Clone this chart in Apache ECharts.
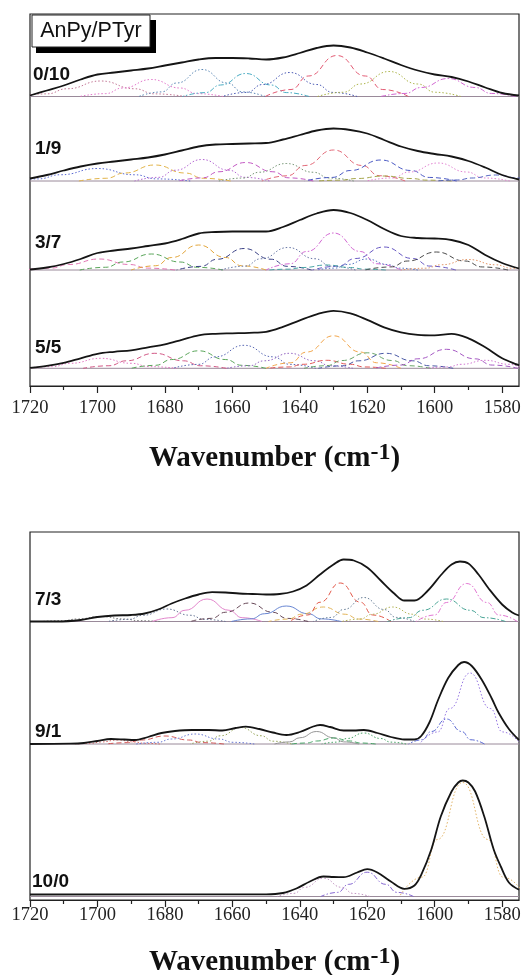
<!DOCTYPE html>
<html><head><meta charset="utf-8">
<script src="https://cdn.jsdelivr.net/npm/echarts@6/dist/echarts.min.js"></script>
<style>html,body{margin:0;padding:0;background:#fff}#c{width:528px;height:975px}</style>
</head><body><div id="c"></div>
<script>
// ---------- axis ----------
const xMin = 1575, xMax = 1720;
const majorTicks = [1720, 1700, 1680, 1660, 1640, 1620, 1600, 1580];
const minorTicks = [1710, 1690, 1670, 1650, 1630, 1610, 1590];
const sampleNames = ['0/10', '1/9', '3/7', '5/5', '7/3', '9/1', '10/0'];
const legendTitle = 'AnPy/PTyr';

// ---------- measured envelopes [wavenumber, intensity] ----------
const env_0_10 = [[1720,1],[1715,6],[1710,11],[1705,17],[1700,22],[1695,24],[1690,26],[1685,28],[1680,31],[1675,34],[1670,37],[1665,38.5],[1660,38.5],[1655,38],[1650,37],[1645,39],[1640,43.5],[1635,48.5],[1630,51],[1625,49],[1620,44],[1615,38],[1610,31.5],[1605,26],[1600,22],[1595,19.5],[1590,15],[1585,9],[1580,3.5],[1575,1]];
const env_1_9 = [[1720,2.5],[1715,6],[1710,10.5],[1705,14.5],[1700,17.5],[1695,19.5],[1690,21.5],[1685,23.5],[1680,26.5],[1675,30.5],[1670,34.5],[1665,36.5],[1660,37],[1655,37.5],[1650,38],[1645,41.5],[1640,46],[1635,50.5],[1630,52.5],[1625,51],[1620,47.5],[1615,41],[1610,34.5],[1605,30],[1600,27],[1595,24.5],[1590,20],[1585,13.5],[1580,6],[1575,1.5]];
const env_3_7 = [[1720,0.5],[1715,2.5],[1710,6],[1705,11],[1700,17],[1695,19.5],[1690,21.5],[1685,24],[1680,26.5],[1675,31],[1670,36.5],[1665,38],[1660,38.5],[1655,38.5],[1650,38.5],[1645,43],[1640,50],[1635,56.5],[1630,60],[1625,57],[1620,50],[1615,41],[1610,34],[1605,32],[1600,31.5],[1595,30],[1590,25],[1585,15],[1580,7],[1575,1.5]];
const env_5_5 = [[1720,0.5],[1715,2.5],[1710,5.5],[1705,10],[1700,14.5],[1695,16.5],[1690,18],[1685,21],[1680,24],[1675,28.5],[1670,33],[1665,34.5],[1660,35],[1655,35.5],[1650,36.5],[1645,41.5],[1640,48],[1635,54],[1630,57.5],[1625,55],[1620,48.5],[1615,41],[1610,36],[1605,33.5],[1600,33],[1595,34.5],[1590,30],[1585,21],[1580,10],[1575,3]];
const env_7_3 = [[1720,0],[1712,0],[1705,1.5],[1700,4.5],[1695,6],[1690,6.5],[1686,8],[1682,12],[1678,18],[1674,23],[1670,27],[1666,29.3],[1662,29],[1658,28],[1654,27.5],[1650,27],[1646,27.5],[1642,30],[1638,36],[1634,47],[1630,57],[1627,62],[1624,61],[1620,54],[1616,41],[1612,28],[1609,21],[1606,21],[1602,31],[1598,47],[1595,57],[1592.5,60],[1590,58],[1587,47],[1584,33],[1580,17],[1577,9],[1575,6]];
const env_9_1 = [[1720,0],[1708,0.3],[1704,1],[1700,3],[1696,5],[1692,4.5],[1689,4],[1685,7],[1681,11],[1677,13],[1672,14],[1667,14],[1663,13.5],[1659,16],[1656,17.3],[1652,15],[1648,11.5],[1644,9],[1640,12],[1636,17.5],[1634,19],[1631,17],[1627,13.5],[1624,13.5],[1621,14],[1617,11],[1613,7],[1609,4.5],[1606,4.5],[1604,8],[1601.5,22],[1599,44],[1596,66],[1593,79],[1591.3,82],[1589,78],[1586,64],[1583,45],[1581,31],[1578,15],[1575,4]];
const env_10_0 = [[1720,2],[1650,2.2],[1645,3.5],[1641,8],[1637,15],[1633,20],[1630,19.5],[1627,19.3],[1623,24],[1620,27.3],[1617,24],[1613,15],[1609,7.7],[1606,11],[1604,21.7],[1601,47],[1598.2,80],[1595,105],[1593,114],[1591.7,116],[1590,114],[1588,105],[1585.3,80],[1582.5,47],[1580.4,30],[1578,14],[1575,6.7]];

// ---------- fitted component peaks [centre, height, FWHM] ----------
const peaks_0_10 = [[1699,15.5,20],[1684,17,17],[1669,27,15],[1656,23,15],[1643,24,16],[1629,41,17],[1613.5,25,17],[1596,18,16]];
const peaks_1_9 = [[1700,12.5,22],[1683,16,18],[1669,21.5,16],[1656,18.5,16],[1644,17.5,16],[1630,31,17],[1616,21,18],[1615,5,16],[1599,18,17],[1582,6,14]];
const peaks_3_7 = [[1699.5,11,18],[1684,16,17],[1670,25,16],[1656.5,21.5,16],[1643.5,22.5,16],[1630,37,16],[1615,23,17],[1620,11,12],[1632,5,14],[1599.5,18,17],[1590,10.5,16]];
const peaks_5_5 = [[1699,10,18],[1683,15,17],[1670,17.5,16],[1656.5,23,17],[1643,15,15],[1630,32.5,16],[1632,8,14],[1620,15.5,15],[1614.5,15,16],[1596.5,19,17],[1585,8,14]];
const peaks_7_3 = [[1699,5,14],[1679.5,12.5,14],[1667.5,22.5,13],[1655,18.5,14],[1644,15.5,13],[1633,14.5,13],[1628,38.5,12],[1621,24,12],[1612.5,14.5,12],[1596.5,22.5,14],[1590.5,38,12]];
const peaks_9_1 = [[1694,4,10],[1680,8,14],[1671,10,14],[1657.5,16.5,12],[1635,12.5,10],[1630,6,10],[1621,11,10],[1596.5,25,9],[1589.5,71,12]];
const peaks_10_0 = [[1633,18.3,11],[1620,24.3,11],[1591.7,114,15]];

// ---------- styles (colour, dash) ----------
const styles_0_10 = [['#c07090','dot'],['#e070c8','dot'],['#5080b0','dot'],['#40a8c0','dd'],['#4050b0','dot'],['#e0506a','dash'],['#a8b040','dot'],['#d060d0','dd']];
const styles_1_9 = [['#5060d0','dot'],['#e0b040','dash'],['#b060d0','dot'],['#c050c0','dash'],['#709070','dot'],['#e06070','dash'],['#4050c0','dash'],['#a0a040','dash'],['#e080d0','dot'],['#5060c0','dash']];
const styles_3_7 = [['#e070b0','dash'],['#50a050','dash'],['#e0a030','dash'],['#303880','dash'],['#6070a0','dot'],['#d060d0','dd'],['#6050c0','dash'],['#5070c0','dot'],['#40a0a0','dash'],['#404040','dash'],['#e09060','dot']];
const styles_5_5 = [['#e070c0','dot'],['#d05080','dash'],['#50a050','dash'],['#5060b0','dot'],['#9060c0','dot'],['#f0a040','dash'],['#e05050','dash'],['#60a060','dash'],['#4050a0','dash'],['#a050c0','dash'],['#d070d0','dot']];
const styles_7_3 = [['#707070','dot'],['#607090','dot'],['#e080c8','solid'],['#604050','dash'],['#6080d0','solid'],['#e0b050','dash'],['#e05040','dash'],['#607890','dot'],['#b0b050','dot'],['#40a090','dd'],['#e070d0','dd']];
const styles_9_1 = [['#d06060','dot'],['#d05050','dash'],['#6070d0','dot'],['#90a050','dot'],['#909090','solid'],['#40a060','dash'],['#40a060','dot'],['#5060d0','dd'],['#9070e0','dot']];
const styles_10_0 = [['#c090c0','dot'],['#8060d0','dd'],['#e0b060','dot']];

const envelopes = [env_0_10, env_1_9, env_3_7, env_5_5, env_7_3, env_9_1, env_10_0];
const peakSets = [peaks_0_10, peaks_1_9, peaks_3_7, peaks_5_5, peaks_7_3, peaks_9_1, peaks_10_0];
const styleSets = [styles_0_10, styles_1_9, styles_3_7, styles_5_5, styles_7_3, styles_9_1, styles_10_0];

// ---------- layout (not data) ----------
const layout = [
  {grid: 0, offset: 289.5, labelY: 74.5, labelX: 33},
  {grid: 0, offset: 205, labelY: 149, labelX: 35},
  {grid: 0, offset: 116, labelY: 243, labelX: 35},
  {grid: 0, offset: 17.7, labelY: 347.5, labelX: 35},
  {grid: 1, offset: 278.5, labelY: 600, labelX: 35},
  {grid: 1, offset: 156, labelY: 731.5, labelX: 35},
  {grid: 1, offset: 3.5, labelY: 881.5, labelX: 32}
];
const DASH = {dash: [5, 3], dot: [1.5, 2], dd: [5, 2, 1.5, 2], solid: 'solid'};
// normalised peak outline (units of half-width, fraction of height)
const PEAK_SHAPE = [[-2.5,0],[-1.6,0.17],[-1,0.5],[0,1],[1,0.5],[1.6,0.17],[2.5,0]];

const series = [];
envelopes.forEach((env, i) => {
  const L = layout[i];
  const ax = {xAxisIndex: L.grid * 2, yAxisIndex: L.grid};
  series.push(Object.assign({
    type: 'line', data: [[xMax, L.offset], [xMin, L.offset]], symbol: 'none', silent: true,
    lineStyle: {color: '#9a8a9a', width: 1}, z: 1
  }, ax));
  peakSets[i].forEach((p, k) => {
    const [c, h, fw] = p, hw = fw / 2;
    const st = styleSets[i][k];
    series.push(Object.assign({
      type: 'line', symbol: 'none', smooth: 0.5, smoothMonotone: 'x', silent: true,
      data: PEAK_SHAPE.map(([u, f]) => [c + u * hw, h * f + L.offset]),
      lineStyle: {color: st[0], width: 1, type: DASH[st[1]], opacity: 0.95}, z: 2
    }, ax));
  });
  series.push(Object.assign({
    type: 'line', symbol: 'none', smooth: 0.35, silent: true,
    data: env.map(([x, y]) => [x, y + L.offset]),
    lineStyle: {color: '#151515', width: 1.8}, z: 5
  }, ax));
});

function xAxes(gridIndex, labelMargin, nameGap) {
  const base = {type: 'value', gridIndex, position: 'bottom', min: xMin, max: xMax, inverse: true, splitLine: {show: false}};
  return [
    Object.assign({}, base, {
      axisLine: {show: true, lineStyle: {color: '#222', width: 1.2}},
      axisTick: {show: true, inside: false, length: 7, customValues: majorTicks, lineStyle: {color: '#222', width: 1.2}},
      axisLabel: {show: true, customValues: majorTicks, margin: labelMargin, formatter: v => String(v),
        fontFamily: 'Liberation Serif', fontSize: 18.5, color: '#222', showMinLabel: true, showMaxLabel: true},
      name: 'Wavenumber (cm{sup|-1})', nameLocation: 'middle', nameGap,
      nameTextStyle: {fontFamily: 'Liberation Serif', fontWeight: 'bold', fontSize: 29, color: '#111', lineHeight: 36,
        rich: {sup: {fontFamily: 'Liberation Serif', fontWeight: 'bold', fontSize: 24, color: '#111', verticalAlign: 'top', lineHeight: 25}}}
    }),
    Object.assign({}, base, {
      axisLine: {show: false},
      axisTick: {show: true, inside: false, length: 4, customValues: minorTicks, lineStyle: {color: '#222', width: 1.2}},
      axisLabel: {show: false}
    })
  ];
}

const graphics = [
  {type: 'rect', shape: {x: 36, y: 20, width: 120, height: 33}, style: {fill: '#000'}, z: 100},
  {type: 'rect', shape: {x: 32, y: 15, width: 118, height: 32}, style: {fill: '#fff', stroke: '#222', lineWidth: 1}, z: 101},
  {type: 'text', x: 91, y: 31.5, style: {text: legendTitle, font: '21.5px "Liberation Sans", Arial, sans-serif', fill: '#111', align: 'center', verticalAlign: 'middle'}, z: 102}
];
sampleNames.forEach((n, i) => {
  graphics.push({type: 'text', x: layout[i].labelX, y: layout[i].labelY,
    style: {text: n, font: 'bold 19px "Liberation Sans", Arial, sans-serif', fill: '#111', align: 'left', verticalAlign: 'middle'}, z: 50});
});

const chart = echarts.init(document.getElementById('c'), null, {renderer: 'canvas'});
chart.setOption({
  animation: false,
  backgroundColor: '#fff',
  grid: [
    {left: 30, right: 9, top: 14, height: 372, show: true, borderColor: '#222', borderWidth: 1.2, backgroundColor: 'transparent', outerBoundsMode: 'none', containLabel: false},
    {left: 30, right: 9, top: 532, height: 368, show: true, borderColor: '#222', borderWidth: 1.2, backgroundColor: 'transparent', outerBoundsMode: 'none', containLabel: false}
  ],
  xAxis: xAxes(0, 13, 55).concat(xAxes(1, 6, 45)),
  yAxis: [
    {type: 'value', gridIndex: 0, min: 0, max: 372, show: false},
    {type: 'value', gridIndex: 1, min: 0, max: 368, show: false}
  ],
  series,
  graphic: graphics
});
</script></body></html>
